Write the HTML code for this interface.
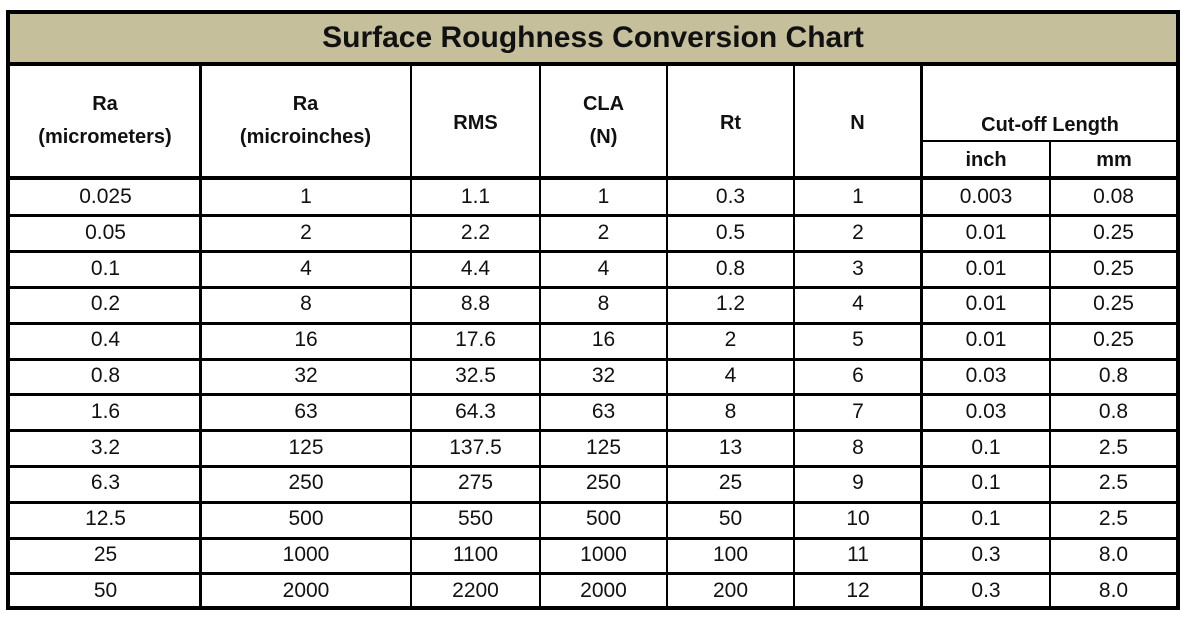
<!DOCTYPE html>
<html><head><meta charset="utf-8"><style>
body{margin:0;width:1188px;height:621px;background:#fff;position:relative;overflow:hidden;font-family:"Liberation Sans",sans-serif;color:#111}
.l{position:absolute;background:#000}
.t{position:absolute;text-align:center;font-size:21px;line-height:24px}
.b{font-weight:bold;font-size:20px}
.h2{line-height:33px}
</style></head><body>
<div style="position:absolute;left:8px;top:12px;width:1170px;height:51px;background:#c6bf9c"></div>
<div class="t" style="left:8px;width:1170px;top:20px;font-size:30px;line-height:36px;font-weight:bold">Surface Roughness Conversion Chart</div>
<div class="l" style="left:6px;top:10px;width:1174px;height:4px"></div>
<div class="l" style="left:6px;top:606px;width:1174px;height:4px"></div>
<div class="l" style="left:6px;top:10px;width:4px;height:600px"></div>
<div class="l" style="left:1176px;top:10px;width:4px;height:600px"></div>
<div class="l" style="left:6px;top:62px;width:1174px;height:4px"></div>
<div class="l" style="left:6px;top:176px;width:1174px;height:4px"></div>
<div class="l" style="left:920px;top:140px;width:258px;height:2px"></div>
<div class="l" style="left:199px;top:64px;width:3px;height:544px"></div>
<div class="l" style="left:410px;top:64px;width:2px;height:544px"></div>
<div class="l" style="left:539px;top:64px;width:2px;height:544px"></div>
<div class="l" style="left:666px;top:64px;width:2px;height:544px"></div>
<div class="l" style="left:793px;top:64px;width:2px;height:544px"></div>
<div class="l" style="left:920px;top:64px;width:3px;height:544px"></div>
<div class="l" style="left:1049px;top:140px;width:2px;height:468px"></div>
<div class="t b h2" style="left:10px;width:190px;top:88px">Ra<br>(micrometers)</div>
<div class="t b h2" style="left:201px;width:209px;top:88px">Ra<br>(microinches)</div>
<div class="t b" style="left:411px;width:129px;top:111px">RMS</div>
<div class="t b h2" style="left:540px;width:127px;top:88px">CLA<br>(N)</div>
<div class="t b" style="left:667px;width:127px;top:111px">Rt</div>
<div class="t b" style="left:794px;width:127px;top:111px">N</div>
<div class="t b" style="left:922px;width:256px;top:113px">Cut-off Length</div>
<div class="t b" style="left:922px;width:128px;top:148px">inch</div>
<div class="t b" style="left:1050px;width:128px;top:148px">mm</div>
<div id="rows"></div>
<script>
(function(){
var d=[["0.025","1","1.1","1","0.3","1","0.003","0.08"],["0.05","2","2.2","2","0.5","2","0.01","0.25"],["0.1","4","4.4","4","0.8","3","0.01","0.25"],["0.2","8","8.8","8","1.2","4","0.01","0.25"],["0.4","16","17.6","16","2","5","0.01","0.25"],["0.8","32","32.5","32","4","6","0.03","0.8"],["1.6","63","64.3","63","8","7","0.03","0.8"],["3.2","125","137.5","125","13","8","0.1","2.5"],["6.3","250","275","250","25","9","0.1","2.5"],["12.5","500","550","500","50","10","0.1","2.5"],["25","1000","1100","1000","100","11","0.3","8.0"],["50","2000","2200","2000","200","12","0.3","8.0"]];
var xs=[10,201,411,540,667,794,922,1050,1177],h="";
for(var r=0;r<12;r++){var yy=180+r*35.8;
if(r>0)h+='<div class="l" style="left:6px;top:'+(yy-1.5)+'px;width:1174px;height:3px"></div>';
for(var c=0;c<8;c++)h+='<div class="t" style="left:'+xs[c]+'px;width:'+(xs[c+1]-xs[c])+'px;top:'+(yy+5)+'px">'+d[r][c]+'</div>';}
document.getElementById("rows").innerHTML=h;
})();
</script>
</body></html>
